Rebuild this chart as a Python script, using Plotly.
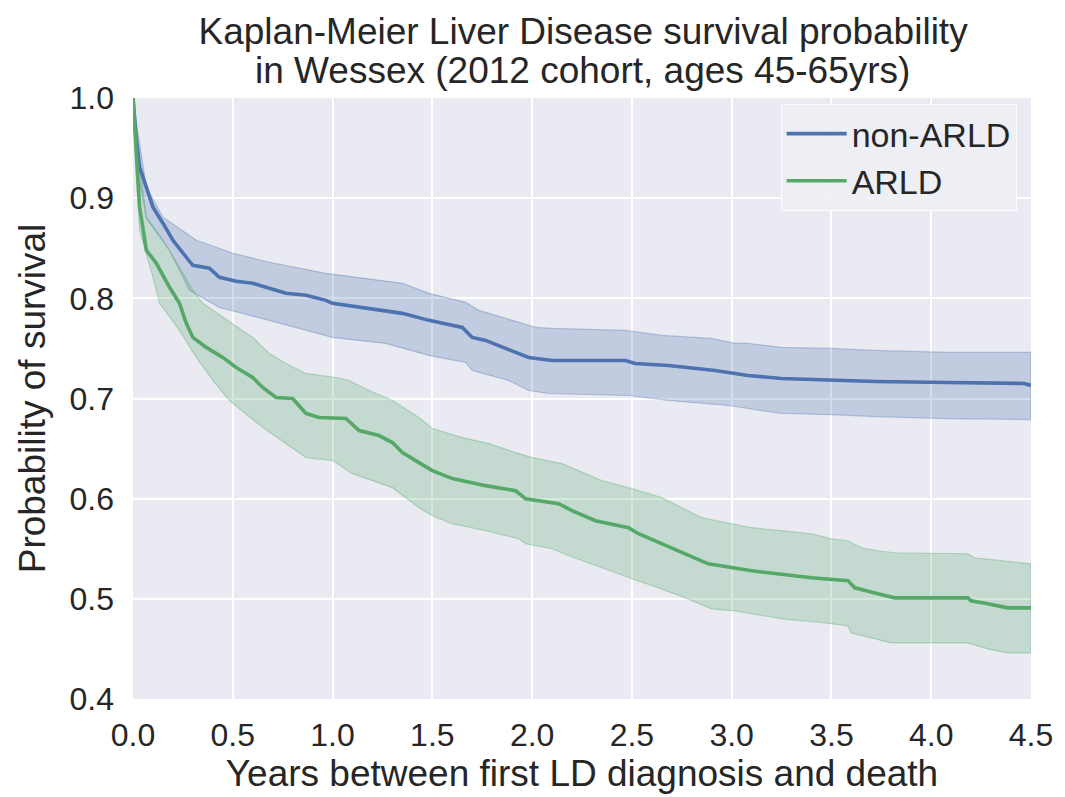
import plotly.graph_objects as go

# ---- data ----
nonarld_t = [0, 0.017, 0.033, 0.1, 0.15, 0.2, 0.267, 0.3, 0.383, 0.433, 0.517, 0.6, 0.683, 0.767, 0.867,
             0.967, 1.0, 1.183, 1.35, 1.483, 1.65, 1.7, 1.767, 1.867, 1.983, 2.1, 2.467, 2.517, 2.683,
             2.917, 3.017, 3.083, 3.25, 3.5, 3.717, 4.083, 4.467, 4.5]
nonarld_s = [1.0, 0.958, 0.931, 0.891, 0.875, 0.858, 0.841, 0.833, 0.830, 0.821, 0.817, 0.815, 0.810, 0.805,
             0.803, 0.798, 0.795, 0.790, 0.785, 0.778, 0.771, 0.761, 0.758, 0.750, 0.741, 0.738, 0.738,
             0.735, 0.733, 0.728, 0.725, 0.723, 0.720, 0.718, 0.717, 0.716, 0.715, 0.713]

nonarld_up_t = [0, 0.017, 0.067, 0.15, 0.267, 0.317, 0.417, 0.5, 0.683, 0.967, 1.35, 1.483, 1.667, 1.733,
                1.9, 2.017, 2.1, 2.467, 2.65, 2.9, 3.017, 3.083, 3.25, 3.5, 3.717, 4.083, 4.5]
nonarld_up = [1.0, 0.975, 0.911, 0.881, 0.865, 0.858, 0.851, 0.845, 0.836, 0.825, 0.815, 0.805, 0.796, 0.788,
              0.778, 0.771, 0.770, 0.768, 0.763, 0.760, 0.755, 0.755, 0.751, 0.750, 0.748, 0.746, 0.746]

nonarld_lo_t = [0, 0.017, 0.067, 0.183, 0.283, 0.433, 0.683, 1.0, 1.267, 1.483, 1.667, 1.7, 1.883, 1.983,
                2.083, 2.483, 2.683, 2.983, 3.083, 3.25, 3.5, 3.717, 4.083, 4.5]
nonarld_lo = [1.0, 0.935, 0.88, 0.848, 0.808, 0.791, 0.778, 0.761, 0.755, 0.743, 0.736, 0.728, 0.718, 0.708,
              0.705, 0.703, 0.698, 0.693, 0.690, 0.685, 0.684, 0.682, 0.680, 0.679]

arld_t = [0, 0.017, 0.033, 0.067, 0.117, 0.183, 0.233, 0.267, 0.3, 0.367, 0.45, 0.517, 0.6, 0.65, 0.717,
          0.8, 0.867, 0.933, 1.067, 1.133, 1.233, 1.3, 1.35, 1.433, 1.5, 1.6, 1.767, 1.917, 1.967, 2.133,
          2.2, 2.317, 2.483, 2.533, 2.65, 2.767, 2.883, 3.1, 3.233, 3.4, 3.583, 3.617, 3.733, 3.817, 4.183,
          4.2, 4.283, 4.383, 4.5]
arld_s = [1.0, 0.941, 0.891, 0.848, 0.835, 0.811, 0.795, 0.775, 0.761, 0.751, 0.741, 0.731, 0.721, 0.711,
          0.701, 0.700, 0.685, 0.681, 0.680, 0.668, 0.663, 0.656, 0.646, 0.636, 0.628, 0.620, 0.613, 0.608,
          0.600, 0.595, 0.588, 0.578, 0.571, 0.565, 0.555, 0.545, 0.535, 0.528, 0.525, 0.521, 0.518, 0.511,
          0.505, 0.501, 0.501, 0.498, 0.495, 0.491, 0.491]

arld_up_t = [0, 0.017, 0.067, 0.15, 0.233, 0.3, 0.35, 0.5, 0.6, 0.683, 0.767, 0.867, 1.017, 1.083, 1.183,
             1.267, 1.3, 1.433, 1.5, 1.65, 1.783, 1.917, 2.0, 2.15, 2.233, 2.35, 2.5, 2.65, 2.85, 2.983,
             3.1, 3.25, 3.4, 3.5, 3.583, 3.65, 3.733, 3.817, 4.183, 4.217, 4.367, 4.5]
arld_up = [1.0, 0.96, 0.881, 0.858, 0.831, 0.808, 0.795, 0.775, 0.761, 0.745, 0.735, 0.725, 0.721, 0.718,
           0.708, 0.701, 0.698, 0.681, 0.670, 0.661, 0.655, 0.646, 0.641, 0.635, 0.628, 0.618, 0.610, 0.601,
           0.581, 0.576, 0.571, 0.568, 0.565, 0.560, 0.558, 0.551, 0.548, 0.546, 0.545, 0.541, 0.538, 0.535]

arld_lo_t = [0, 0.017, 0.033, 0.1, 0.133, 0.233, 0.317, 0.4, 0.483, 0.65, 0.867, 1.0, 1.1, 1.3, 1.433, 1.5,
             1.6, 1.767, 1.933, 1.967, 2.1, 2.183, 2.35, 2.5, 2.633, 2.767, 2.9, 3.017, 3.1, 3.25, 3.467,
             3.583, 3.6, 3.7, 3.8, 4.183, 4.283, 4.383, 4.5]
arld_lo = [1.0, 0.92, 0.868, 0.821, 0.795, 0.768, 0.741, 0.718, 0.698, 0.671, 0.641, 0.638, 0.625, 0.611,
           0.591, 0.583, 0.575, 0.568, 0.560, 0.555, 0.550, 0.543, 0.531, 0.520, 0.511, 0.501, 0.490, 0.488,
           0.485, 0.480, 0.476, 0.473, 0.466, 0.461, 0.456, 0.456, 0.450, 0.446, 0.446]

x_ticks = [0.0, 0.5, 1.0, 1.5, 2.0, 2.5, 3.0, 3.5, 4.0, 4.5]
y_ticks = [0.4, 0.5, 0.6, 0.7, 0.8, 0.9, 1.0]

title_line1 = "Kaplan-Meier Liver Disease survival probability"
title_line2 = "in Wessex (2012 cohort, ages 45-65yrs)"

BLUE = "#4C72B0"
GREEN = "#55A868"
TEXT = "#262626"
FONT = "Liberation Sans, Arial, sans-serif"


def band(t_up, up, t_lo, lo, rgb):
    return go.Scatter(
        x=list(t_up) + list(t_lo)[::-1],
        y=list(up) + list(lo)[::-1],
        fill="toself",
        fillcolor=f"rgba({rgb},0.25)",
        line=dict(color=f"rgba({rgb},0.35)", width=1.2),
        mode="lines",
        showlegend=False,
        hoverinfo="skip",
    )


fig = go.Figure()
fig.add_trace(band(nonarld_up_t, nonarld_up, nonarld_lo_t, nonarld_lo, "76,114,176"))
fig.add_trace(band(arld_up_t, arld_up, arld_lo_t, arld_lo, "85,168,104"))
fig.add_trace(go.Scatter(x=nonarld_t, y=nonarld_s, mode="lines", name="non-ARLD",
                         line=dict(color=BLUE, width=3.6)))
fig.add_trace(go.Scatter(x=arld_t, y=arld_s, mode="lines", name="ARLD",
                         line=dict(color=GREEN, width=3.6)))

fig.update_layout(
    width=1065, height=797,
    margin=dict(l=133, r=32, t=98, b=98),
    paper_bgcolor="white",
    plot_bgcolor="#EAEAF2",
    font=dict(family=FONT, size=32, color=TEXT),
    title=dict(text=title_line1, x=0.5475, xanchor="center", y=1 - 31 / 797, yanchor="middle",
               font=dict(size=37, color=TEXT)),
    xaxis=dict(range=[0, 4.5], tickvals=x_ticks, ticktext=[f"{v:.1f}" for v in x_ticks],
               showgrid=True, gridcolor="white", gridwidth=2, zeroline=False, showline=False,
               ticks="", tickfont=dict(size=32), ticklabelstandoff=14,
               title=dict(text="Years between first LD diagnosis and death", font=dict(size=37), standoff=6)),
    yaxis=dict(range=[0.4, 1.0], tickvals=y_ticks, ticktext=[f"{v:.1f}" for v in y_ticks],
               showgrid=True, gridcolor="white", gridwidth=2, zeroline=False, showline=False,
               ticks="", tickfont=dict(size=32), ticklabelstandoff=18,
               title=dict(text="Probability of survival", font=dict(size=37), standoff=12)),
    legend=dict(x=0.984, xanchor="right", y=0.99, yanchor="top",
                bgcolor="rgba(238,238,245,0.9)", bordercolor="rgba(255,255,255,0.9)", borderwidth=1,
                font=dict(size=34, color=TEXT), itemwidth=60, tracegroupgap=0),
    annotations=[dict(text=title_line2, xref="paper", yref="paper", x=0.5, xanchor="center",
                      y=(699 - 72) / 600, yanchor="middle", showarrow=False,
                      font=dict(size=37, color=TEXT))],
)

fig.write_html("out.html")
